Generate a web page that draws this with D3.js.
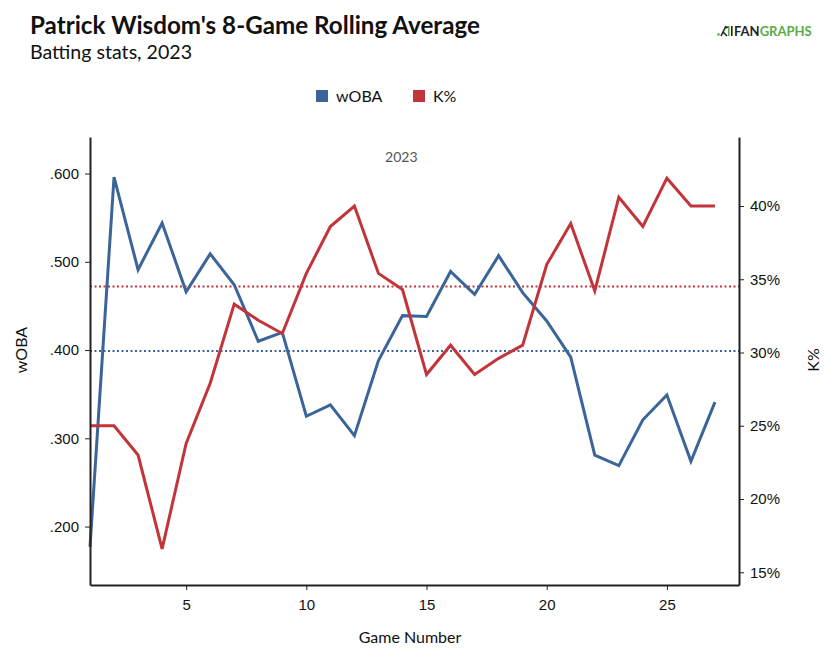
<!DOCTYPE html>
<html lang="en">

<head>
    <meta charset="UTF-8">
    <title>Patrick Wisdom's 8-Game Rolling Average</title>
    <script src="https://d3js.org/d3.v7.min.js"></script>
    <style>
        body {
            margin: 0;
            background: #fff;
        }

        svg {
            font-family: Lato, "Open Sans", sans-serif;
        }

        .axis path,
        .axis line {
            stroke: #222;
        }

        .axis path {
            stroke-width: 2px;
        }

        .axis text {
            font-size: 15px;
            fill: #111;
        }
    </style>
</head>

<body>
    <svg></svg>
</body>

<script>
    // data
    const games = d3.range(1, 28);
    const woba = [.177, .596, .491, .544, .466, .509, .474, .410, .420, .325,
        .338, .303, .388, .439, .438, .489, .463, .507, .465, .433,
        .392, .281, .269, .321, .349, .274, .341];
    const kPct = [25.0, 25.0, 23.0, 16.6, 23.8, 27.9, 33.3, 32.2, 31.3, 35.4,
        38.6, 40.0, 35.4, 34.3, 28.5, 30.5, 28.5, 29.6, 30.5, 36.0,
        38.8, 34.2, 40.6, 38.6, 41.9, 40.0, 40.0];
    const wobaAvg = .399;
    const kAvg = 34.5;
    const xTicks = [5, 10, 15, 20, 25];
    const wobaTicks = [.2, .3, .4, .5, .6];
    const kTicks = [15, 20, 25, 30, 35, 40];

    const blue = "#3b6599",
        red = "#c1353a";

    const W = 835, H = 658;
    const margin = { top: 137, right: 96, bottom: 73, left: 90 },
        width = W - margin.left - margin.right,
        height = H - margin.top - margin.bottom;

    const root = d3.select("svg")
        .attr("width", W)
        .attr("height", H);

    // title block
    root.append("text")
        .attr("x", 30).attr("y", 34)
        .attr("font-size", 24.2).attr("font-weight", 700)
        .attr("fill", "#111")
        .text("Patrick Wisdom's 8-Game Rolling Average");
    root.append("text")
        .attr("x", 30).attr("y", 59)
        .attr("font-size", 19.6)
        .attr("fill", "#111")
        .text("Batting stats, 2023");

    // fangraphs logo
    const logo = root.append("g").attr("transform", "translate(717,36)");
    logo.append("circle").attr("cx", 1.5).attr("cy", -1.5).attr("r", 1.3).attr("fill", "#5aac44");
    logo.append("path").attr("d", "M4,0 L7,-6 L9,-10 M6,-4 L10,0 M8,-8 L11,-9")
        .attr("stroke", "#222").attr("stroke-width", 1.6).attr("fill", "none");
    logo.append("rect").attr("x", 11).attr("y", -10).attr("width", 1.6).attr("height", 10).attr("fill", "#5aac44");
    logo.append("rect").attr("x", 14).attr("y", -10).attr("width", 1.6).attr("height", 10).attr("fill", "#222");
    const lt = logo.append("text").attr("x", 17).attr("y", 0)
        .attr("font-size", 13).attr("font-weight", 700);
    lt.append("tspan").attr("fill", "#222").text("FAN");
    lt.append("tspan").attr("fill", "#5aac44").text("GRAPHS");

    // legend
    const legend = [["wOBA", blue, 316], ["K%", red, 413]];
    legend.forEach(([name, col, lx]) => {
        root.append("rect")
            .attr("x", lx).attr("y", 90)
            .attr("width", 12).attr("height", 12)
            .attr("fill", col);
        root.append("text")
            .attr("x", lx + 20).attr("y", 102)
            .attr("font-size", 16).attr("fill", "#111")
            .text(name);
    });

    const svg = root.append("g")
        .attr("transform", `translate(${margin.left},${margin.top})`);

    // scales
    const x = d3.scaleLinear().domain([1, 28]).range([0, width]);
    const yL = d3.scaleLinear().domain([.1338, .6414]).range([height, 0]);
    const yR = d3.scaleLinear().domain([14.13, 44.71]).range([height, 0]);

    // year label
    svg.append("text")
        .attr("x", x(13.95)).attr("y", 25)
        .attr("text-anchor", "middle")
        .attr("font-size", 14).attr("fill", "#555")
        .text("2023");

    // average lines
    svg.append("line")
        .attr("x1", 0).attr("x2", width)
        .attr("y1", yR(kAvg)).attr("y2", yR(kAvg))
        .attr("stroke", red).attr("stroke-width", 2)
        .attr("stroke-dasharray", "2,2.5");
    svg.append("line")
        .attr("x1", 0).attr("x2", width)
        .attr("y1", yL(wobaAvg)).attr("y2", yL(wobaAvg))
        .attr("stroke", blue).attr("stroke-width", 2)
        .attr("stroke-dasharray", "2,2.5");

    // lines
    const lineL = d3.line().x((d, i) => x(games[i])).y(d => yL(d));
    const lineR = d3.line().x((d, i) => x(games[i])).y(d => yR(d));

    svg.append("path")
        .datum(woba)
        .attr("d", lineL)
        .attr("fill", "none")
        .attr("stroke", blue)
        .attr("stroke-width", 3);

    svg.append("path")
        .datum(kPct)
        .attr("d", lineR)
        .attr("fill", "none")
        .attr("stroke", red)
        .attr("stroke-width", 3);

    // axes
    svg.append("g")
        .attr("class", "axis")
        .attr("transform", `translate(0,${height})`)
        .call(d3.axisBottom(x).tickValues(xTicks).tickSize(5).tickSizeOuter(0).tickPadding(9));

    svg.append("g")
        .attr("class", "axis")
        .call(d3.axisLeft(yL).tickValues(wobaTicks).tickSize(5).tickSizeOuter(0).tickPadding(6)
            .tickFormat(d => d3.format(".3f")(d).replace(/^0/, "")));

    svg.append("g")
        .attr("class", "axis")
        .attr("transform", `translate(${width},0)`)
        .call(d3.axisRight(yR).tickValues(kTicks).tickSize(5).tickSizeOuter(0).tickPadding(6)
            .tickFormat(d => d + "%"));

    // axis titles
    root.append("text")
        .attr("transform", "translate(27,350) rotate(-90)")
        .attr("text-anchor", "middle")
        .attr("font-size", 16).attr("fill", "#111")
        .text("wOBA");
    root.append("text")
        .attr("transform", "translate(819,360) rotate(-90)")
        .attr("text-anchor", "middle")
        .attr("font-size", 16).attr("fill", "#111")
        .text("K%");
    root.append("text")
        .attr("x", 410).attr("y", 643)
        .attr("text-anchor", "middle")
        .attr("font-size", 16).attr("fill", "#111")
        .text("Game Number");
</script>

</html>
